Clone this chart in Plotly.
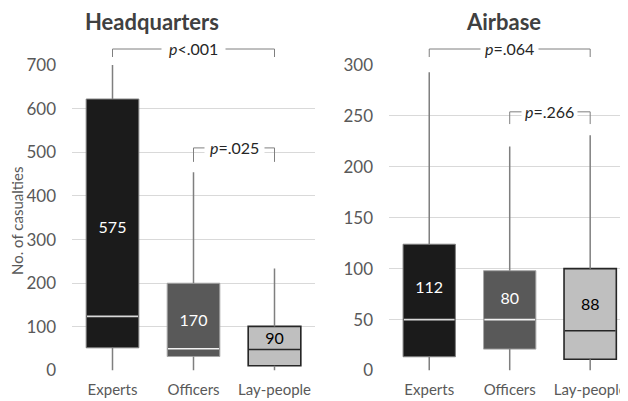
import plotly.graph_objects as go

categories = ["Experts", "Officers", "Lay-people"]

# Headquarters
hq_low = [0, 0, 0]
hq_q1 = [52, 32, 11]
hq_med = [124, 50, 48]
hq_q3 = [622, 200, 101]
hq_high = [700, 454, 234]
hq_labels = ["575", "170", "90"]

# Airbase
ab_low = [0, 0, 0]
ab_q1 = [13.5, 21, 11]
ab_med = [50, 50, 39]
ab_q3 = [124, 98, 100]
ab_high = [293, 220, 231]
ab_labels = ["112", "80", "88"]

hq_ticks = [0, 100, 200, 300, 400, 500, 600, 700]
ab_ticks = [0, 50, 100, 150, 200, 250, 300]

fills = ["#1b1b1b", "#595959", "#bfbfbf"]
outlines = ["#7f7f7f", "#a6a6a6", "#262626"]
outline_w = [1, 1, 1.6]
median_col = ["#d9d9d9", "#f2f2f2", "#262626"]
label_col = ["#ffffff", "#ffffff", "#000000"]
WHISK = "#7f7f7f"
FONT = "Lato, 'Noto Sans', sans-serif"
BW = 0.65

# page body has an 8px margin: figure occupies 620x393 of the 628x401 window
OFF = 8
W, H = 628 - OFF, 401 - OFF


def px(x):
    return (x - OFF) / W


def py(y):
    return 1 - (y - OFF) / H


fig = go.Figure()


def add_panel(low, q1, med, q3, high, labels, xa, ya):
    xs = list(range(len(categories)))
    wx, wy = [], []
    for i in xs:
        wx += [i, i, None, i, i, None]
        wy += [q3[i], high[i], None, low[i], q1[i], None]
    fig.add_trace(go.Scatter(x=wx, y=wy, mode="lines", line=dict(color=WHISK, width=1.5),
                             xaxis=xa, yaxis=ya, hoverinfo="skip", showlegend=False))
    fig.add_trace(go.Bar(x=xs, y=[q3[i] - q1[i] for i in xs], base=q1, width=BW,
                         marker=dict(color=fills, line=dict(color=outlines, width=outline_w)),
                         xaxis=xa, yaxis=ya, showlegend=False, hoverinfo="skip"))
    for i in xs:
        fig.add_trace(go.Scatter(x=[i - BW / 2 + 0.01, i + BW / 2 - 0.01], y=[med[i], med[i]], mode="lines",
                                 line=dict(color=median_col[i], width=1.6),
                                 xaxis=xa, yaxis=ya, hoverinfo="skip", showlegend=False))
    fig.add_trace(go.Scatter(x=xs, y=[med[i] + 0.4 * (q3[i] - med[i]) for i in xs], mode="text",
                             text=labels, textfont=dict(color=label_col, size=16, family=FONT),
                             xaxis=xa, yaxis=ya, hoverinfo="skip", showlegend=False))


add_panel(hq_low, hq_q1, hq_med, hq_q3, hq_high, hq_labels, "x", "y")
add_panel(ab_low, ab_q1, ab_med, ab_q3, ab_high, ab_labels, "x2", "y2")

ydom = [py(370.5), py(65)]

xcommon = dict(showline=False, zeroline=False, showgrid=False, ticks="", ticklen=0, automargin=False,
               tickfont=dict(size=15, color="#595959", family=FONT), fixedrange=True,
               tickvals=[0, 1, 2], ticktext=categories, ticklabelstandoff=8,
               ticklabeloverflow="allow")
ycommon = dict(showline=False, zeroline=False, showgrid=True, gridcolor="#d9d9d9", gridwidth=1,
               ticks="", ticklen=0, automargin=False, ticklabelstandoff=15,
               tickfont=dict(size=17, color="#595959", family=FONT), fixedrange=True)

fig.update_layout(
    width=W, height=H, margin=dict(l=0, r=0, t=0, b=0, pad=0), autosize=False,
    paper_bgcolor="white", plot_bgcolor="white", showlegend=False,
    xaxis=dict(domain=[px(72), px(315)], range=[-0.5, 2.5], anchor="y", **xcommon),
    yaxis=dict(domain=ydom, range=[0, 700], tickvals=hq_ticks, anchor="x", **ycommon),
    xaxis2=dict(domain=[px(389), 1.0], range=[-0.5, 2.47], anchor="y2", **xcommon),
    yaxis2=dict(domain=ydom, range=[0, 300], tickvals=ab_ticks, anchor="x2", **ycommon),
)


def bracket(xa, ya, x0, x1, ytop, ybot, text, pad):
    fig.add_shape(type="path", xref=xa, yref=ya,
                  path=f"M {x0},{ybot} L {x0},{ytop} L {x1},{ytop} L {x1},{ybot}",
                  line=dict(color="#7f7f7f", width=1))
    fig.add_annotation(x=(x0 + x1) / 2, y=ytop, xref=xa, yref=ya, text=text, showarrow=False,
                       font=dict(size=16, color="#262626", family=FONT), bgcolor="white", borderpad=pad,
                       xanchor="center", yanchor="middle")


bracket("x", "paper", 0, 2, py(49), py(57), "<i>p</i>&lt;.001", 7)
bracket("x", "y", 1, 2, 510, 478, "<i>p</i>=.025", 5)
bracket("x2", "paper", 0, 2, py(49), py(57), "<i>p</i>=.064", 4)
bracket("x2", "y2", 1, 2, 254, 242, "<i>p</i>=.266", 3)

fig.add_annotation(x=px(17), y=py(221), xref="paper", yref="paper", text="No. of casualties",
                   showarrow=False, textangle=-90, font=dict(size=15, color="#595959", family=FONT),
                   xanchor="center", yanchor="middle")
fig.add_annotation(x=px(152), y=py(21), xref="paper", yref="paper", text="<b>Headquarters</b>",
                   showarrow=False, font=dict(size=22, color="#404040", family=FONT),
                   xanchor="center", yanchor="middle")
fig.add_annotation(x=px(503), y=py(21), xref="paper", yref="paper", text="<b>Airbase</b>",
                   showarrow=False, font=dict(size=22, color="#404040", family=FONT),
                   xanchor="center", yanchor="middle")

fig.write_html("out.html", post_script="document.documentElement.style.overflow='hidden';"
                                       "document.body.style.overflow='hidden';")
